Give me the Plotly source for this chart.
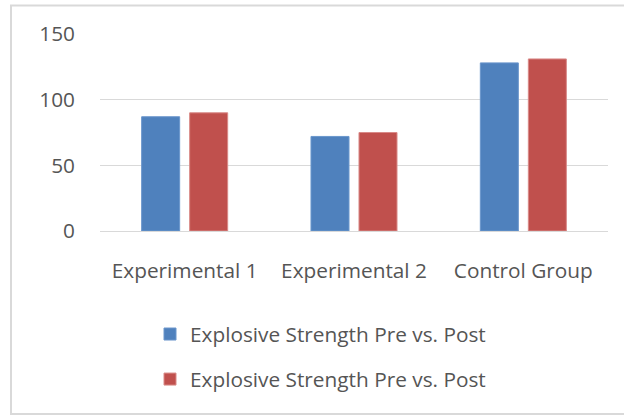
import plotly.graph_objects as go

# Group labels and the two bar series
groups = ["Experimental 1", "Experimental 2", "Control Group"]
series_names = ["Explosive Strength Pre vs. Post", "Explosive Strength Pre vs. Post"]
pre_values = [87, 72, 128]
post_values = [90, 75, 131]
y_ticks = [0, 50, 100, 150]

colors = ["#4F81BD", "#C0504D"]
edge_colors = ["#6A96CC", "#D98A88"]
font_family = "Open Sans, sans-serif"
text_color = "#555555"
fs = 20.8

fig = go.Figure()
for i, vals in enumerate([pre_values, post_values]):
    fig.add_trace(go.Bar(
        x=groups,
        y=vals,
        name=series_names[i],
        legendgroup=f"s{i}",
        marker=dict(color=colors[i], line=dict(color=edge_colors[i], width=1)),
    ))

# Plot area: x 100..608, y 34..231 (px)
L, R, T, B = 100, 16, 34, 184
W, H = 624, 415
pw, ph = W - L - R, H - T - B


def px_x(x):
    return (x - L) / pw


def px_y(y):
    return (H - B - y) / ph


fig.update_layout(
    width=W,
    height=H,
    margin=dict(l=L, r=R, t=T, b=B, pad=0),
    paper_bgcolor="white",
    plot_bgcolor="white",
    barmode="group",
    bargap=0.433,
    bargroupgap=0.208,
    font=dict(family=font_family, color=text_color, size=fs),
    showlegend=True,
    legend=dict(
        orientation="v",
        x=px_x(150),
        xanchor="left",
        y=px_y(314),
        yanchor="top",
        traceorder="grouped",
        tracegroupgap=15,
        font=dict(size=fs, color=text_color),
        bgcolor="rgba(0,0,0,0)",
    ),
    xaxis=dict(
        showgrid=False,
        showline=False,
        ticks="",
        ticklabelstandoff=25,
        tickfont=dict(size=fs, color=text_color),
        fixedrange=True,
    ),
    yaxis=dict(
        range=[0, 150],
        tickvals=y_ticks,
        showgrid=True,
        gridcolor="#D9D9D9",
        gridwidth=1.3,
        zeroline=True,
        zerolinecolor="#D9D9D9",
        zerolinewidth=1.3,
        showline=False,
        ticks="",
        ticklabelstandoff=24,
        tickfont=dict(size=fs, color=text_color),
        fixedrange=True,
    ),
    shapes=[
        dict(
            type="rect",
            xref="paper", yref="paper",
            x0=px_x(11), x1=px_x(640), y0=px_y(414), y1=px_y(5.5),
            line=dict(color="#D9D9D9", width=2),
            fillcolor="rgba(0,0,0,0)",
            layer="below",
        )
    ],
)

fig.write_html("out.html")
